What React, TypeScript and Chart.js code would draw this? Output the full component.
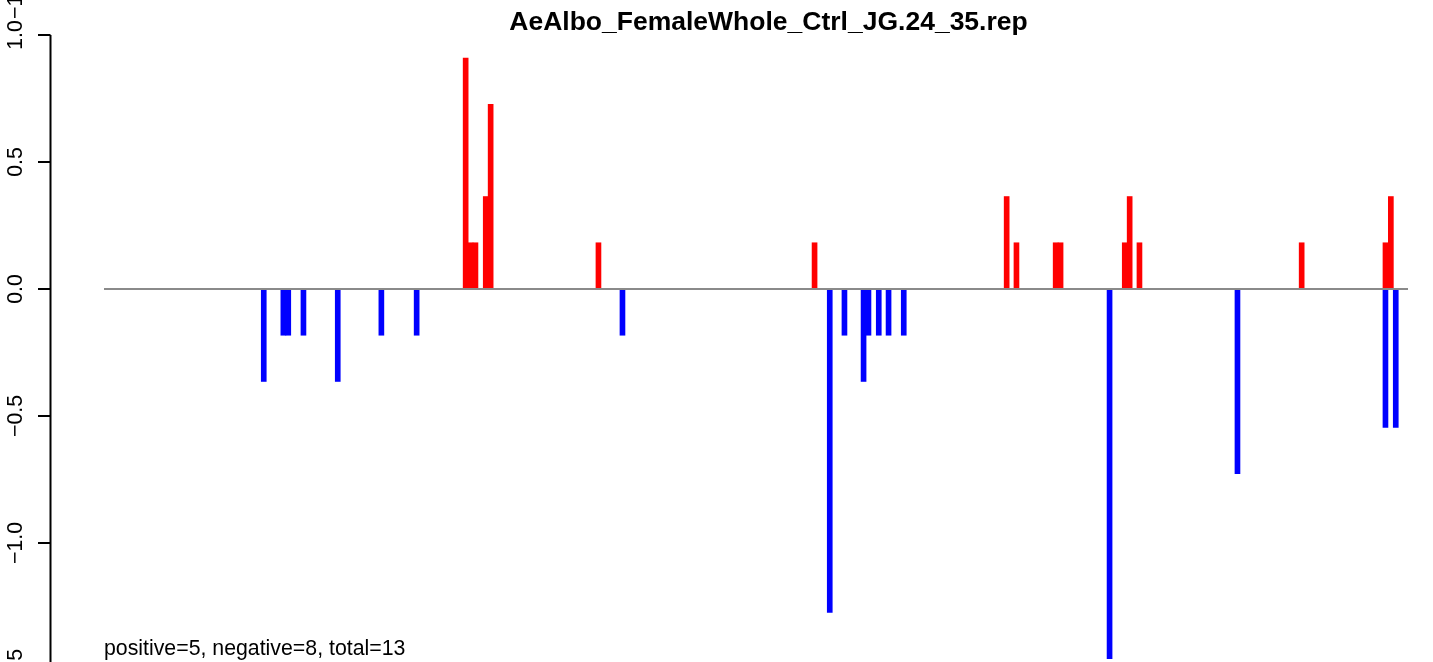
import React, { useEffect, useRef } from "react";
import { Chart, registerables } from "chart.js";

Chart.register(...registerables);

const chartTitle = "AeAlbo_FemaleWhole_Ctrl_JG.24_35.rep";
const footerText = "positive=5, negative=8, total=13";

// positions along the repeat (x) and normalized counts (y)
const positivePositions = [74.8, 75.8, 76.8, 78.9, 79.9, 101.9, 146.0, 185.2, 187.2, 195.2, 196.2, 209.3, 210.3, 212.3, 245.4, 262.5, 263.6];
const positiveValues = [0.909, 0.182, 0.182, 0.364, 0.727, 0.182, 0.182, 0.364, 0.182, 0.182, 0.182, 0.182, 0.364, 0.182, 0.182, 0.182, 0.364];

const negativePositions = [33.6, 37.6, 38.6, 41.7, 48.7, 57.6, 64.8, 106.8, 149.1, 152.1, 156.0, 157.0, 159.1, 161.1, 164.2, 206.2, 232.3, 262.5, 264.6];
const negativeValues = [-0.364, -0.182, -0.182, -0.182, -0.364, -0.182, -0.182, -0.182, -1.273, -0.182, -0.364, -0.182, -0.182, -0.182, -0.182, -1.455, -0.727, -0.545, -0.545];

const baselineSpan = [1, 267.1];
const yTicks = [1.0, 0.5, 0.0, -0.5, -1.0, -1.5];
const yTickLabels = ["1.0", "0.5", "0.0", "\u22120.5", "\u22121.0", "\u22121.5"];
const prevPanelLabel = "\u22121.5";

const X_MIN = -10.02;
const X_MAX = 272.2;
const FONT = "'Liberation Sans', Arial, Helvetica, sans-serif";

const W = 1433;
const H = 700;

export default function App() {
  const ref = useRef<HTMLCanvasElement | null>(null);

  useEffect(() => {
    const canvas = ref.current;
    if (!canvas) return;

    const decor = {
      id: "rDecor",
      afterDraw(chart: any) {
        const ctx = chart.ctx;
        const ys = chart.scales.y;
        const xs = chart.scales.x;
        const axisX = chart.chartArea.left + 0.5;
        ctx.save();
        // axis line
        ctx.strokeStyle = "#000";
        ctx.lineWidth = 2;
        ctx.beginPath();
        ctx.moveTo(axisX, ys.getPixelForValue(yTicks[0]));
        ctx.lineTo(axisX, ys.getPixelForValue(yTicks[yTicks.length - 1]));
        ctx.stroke();
        // ticks + labels
        ctx.fillStyle = "#000";
        ctx.font = `21.3px ${FONT}`;
        yTicks.forEach((v, i) => {
          const py = ys.getPixelForValue(v);
          ctx.beginPath();
          ctx.moveTo(axisX, py);
          ctx.lineTo(axisX - 12.5, py);
          ctx.stroke();
          ctx.save();
          ctx.translate(22, py);
          ctx.rotate(-Math.PI / 2);
          ctx.textAlign = "center";
          ctx.textBaseline = "alphabetic";
          ctx.fillText(yTickLabels[i], 0, 0);
          ctx.restore();
        });
        // fragment of the neighbouring panel's bottom label
        ctx.save();
        ctx.translate(22, 19);
        ctx.rotate(-Math.PI / 2);
        ctx.textAlign = "left";
        ctx.textBaseline = "alphabetic";
        ctx.fillText(prevPanelLabel, 0, 0);
        ctx.restore();
        // title
        ctx.font = `bold 26.5px ${FONT}`;
        ctx.textAlign = "center";
        ctx.textBaseline = "alphabetic";
        ctx.fillText(chartTitle, 768.5, 30);
        // footer
        ctx.font = `21.3px ${FONT}`;
        ctx.textAlign = "left";
        ctx.fillText(footerText, xs.getPixelForValue(baselineSpan[0]), 655);
        ctx.restore();
      },
    };

    const chart = new Chart(canvas, {
      type: "bar",
      data: {
        datasets: [
          {
            type: "line",
            label: "baseline",
            data: baselineSpan.map((x) => ({ x, y: 0 })),
            borderColor: "#8a8a8a",
            borderWidth: 2,
            pointRadius: 0,
            order: 0,
          } as any,
          {
            label: "positive",
            data: positivePositions.map((x, i) => ({ x, y: positiveValues[i] })),
            backgroundColor: "#FF0000",
            borderWidth: 0,
            barThickness: 5,
            grouped: false,
            order: 1,
          } as any,
          {
            label: "negative",
            data: negativePositions.map((x, i) => ({ x, y: negativeValues[i] })),
            backgroundColor: "#0000FF",
            borderWidth: 0,
            barThickness: 5,
            grouped: false,
            order: 1,
          } as any,
        ],
      },
      options: {
        responsive: false,
        animation: false,
        devicePixelRatio: 1,
        layout: { padding: { left: 50, right: 0, top: 35, bottom: H - 670 } },
        plugins: {
          legend: { display: false },
          title: { display: false },
          tooltip: { enabled: false },
        },
        scales: {
          x: {
            type: "linear",
            display: false,
            min: X_MIN,
            max: X_MAX,
            offset: false,
          },
          y: {
            type: "linear",
            display: false,
            min: -1.5,
            max: 1.0,
          },
        },
      } as any,
      plugins: [decor],
    });

    return () => chart.destroy();
  }, []);

  return (
    <div
      style={{
        position: "fixed",
        left: 0,
        top: 0,
        width: W,
        height: 662,
        overflow: "hidden",
        background: "#fff",
      }}
    >
      <canvas ref={ref} width={W} height={H} style={{ width: W, height: H, display: "block" }} />
    </div>
  );
}
